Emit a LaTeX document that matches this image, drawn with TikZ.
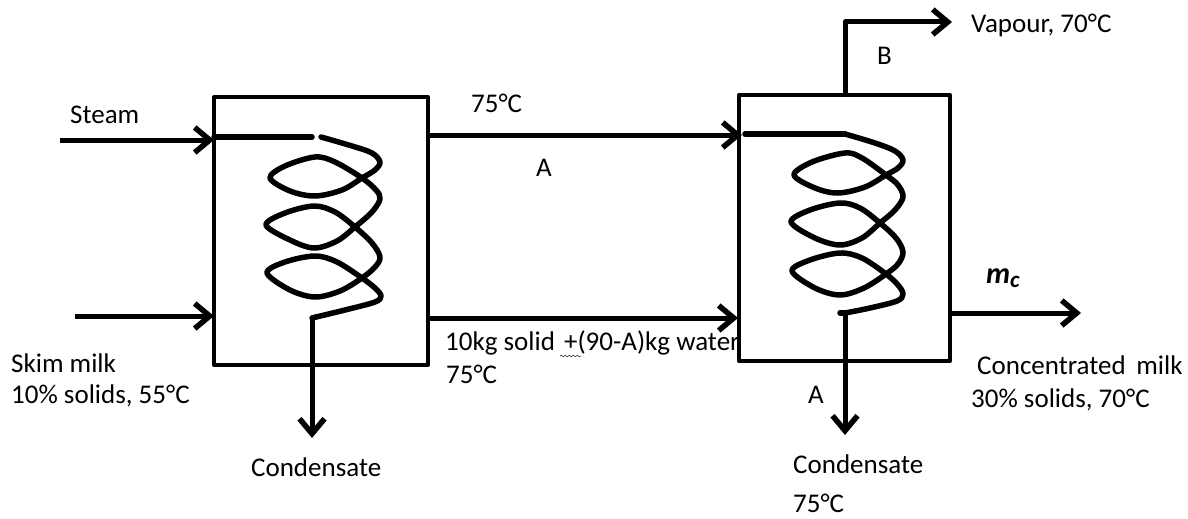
\documentclass[tikz,border=0pt]{standalone}
\usepackage{fontspec}
\setmainfont{Carlito}
\usetikzlibrary{arrows.meta,calc,decorations.pathmorphing}
\tikzset{
  x=1pt,y=-1pt,
  vessel/.style={draw,line width=4pt,rectangle,inner sep=0pt,line join=round},
  flow/.style={line width=5pt,-{Straight Barb[length=15pt,width=25pt,line width=5.5pt]},line join=round},
  coil/.style={line width=5.5pt,line join=round,line cap=round},
  lab/.style={inner sep=0pt,anchor=base west,font=\fontsize{27}{30}\selectfont,text=black},
}
\begin{document}
\begin{tikzpicture}
\useasboundingbox (0,0) rectangle (1188,519);
% vessels
\node[vessel,minimum width=214pt,minimum height=268pt] (E1) at (321,231) {};
\node[vessel,minimum width=211pt,minimum height=266pt] (E2) at (844.5,228) {};
% free ends
\coordinate (steamin) at (60,140);
\coordinate (steamend) at (214,140);
\coordinate (feedin) at (75,316);
\coordinate (feedend) at (214,316);
\coordinate (Aout) at (428,135);
\coordinate (Aend) at (742,135);
\coordinate (Mout) at (428,318);
\coordinate (Mend) at (738,318);
\coordinate (Vbase) at (845,95);
\coordinate (Vcorner) at (845,22);
\coordinate (Vend) at (952,22);
\coordinate (Pout) at (950,313);
\coordinate (Pend) at (1081,313);
\coordinate (C1top) at (312,318);
\coordinate (C1end) at (312,438);
\coordinate (C2top) at (845,313);
\coordinate (C2end) at (845,435);
\coordinate (I1a) at (214,137);
\coordinate (I1b) at (312,137);
\coordinate (I2a) at (745,134);
\coordinate (I2b) at (845,134);
% connectors
\draw[flow] (steamin) -- (steamend);
\draw[flow] (feedin) -- (feedend);
\draw[flow] (Aout) -- (Aend);
\draw[flow] (Mout) -- (Mend);
\draw[flow] (Vbase) -- (Vcorner) -- (Vend);
\draw[flow] (Pout) -- (Pend);
\draw[flow] (C1top) -- (C1end);
\draw[flow] (C2top) -- (C2end);
% left coil
\draw[coil] (I1a) -- (I1b);
\draw[coil] plot[smooth,tension=.55] coordinates {
 (321,137) (352,146) (372,153) (380,162) (375,170) (362,178) (342,190) (315,196)
 (290,191) (270,178) (285,166) (315,157) (335,162) (362,178) (376,190) (380,199)
 (372,212) (355,227) (337,241) (314,248) (290,240) (266,225) (285,213) (314,206)
 (335,212) (355,227) (372,243) (380,257) (375,267) (362,278) (340,291) (315,297)
 (290,290) (267,273) (285,262) (315,256) (337,262) (362,278) (375,288) (381,296)
 (375,302) (345,310) (316,317)};
\draw[coil] (316,317) -- (C1top);
% right coil
\draw[coil] (I2a) -- (I2b);
\draw[coil] plot[smooth,tension=.55] coordinates {
 (845,134) (875,143) (895,151) (903,160) (898,168) (886,175) (865,187) (838,193)
 (815,188) (794,175) (812,162) (845,153) (862,158) (886,175) (898,185) (903,197)
 (895,210) (880,223) (862,238) (840,245) (815,238) (791,222) (810,210) (840,203)
 (860,208) (880,223) (896,238) (903,252) (898,264) (886,274) (864,288) (840,295)
 (815,288) (792,271) (810,260) (840,253) (862,258) (886,274) (898,285) (903,294)
 (897,301) (870,308) (845,313)};
\draw[coil] (845,313) -- (840,313);
% labels
\node[lab] (t1) at (70,123) {Steam};
\node[lab] (t2) at (471,112) {75°C};
\node[lab] (t3) at (536,176) {A};
\node[lab] (t4) at (445,350) {10kg solid\hspace{3pt} +(90-A)kg water};
\node[lab] (t5) at (446,383) {75°C};
\node[lab] (t6) at (11,372) {Skim milk};
\node[lab] (t7) at (11,403) {10\% solids, 55°C};
\node[lab] (t8) at (251,476) {Condensate};
\node[lab] (t9) at (971,33) {Vapour, 70°C};
\node[lab] (t10) at (877,64) {B};
\node[lab,font=\fontsize{30}{32}\selectfont\bfseries\itshape] (t11) at (986,283) {m};
\node[lab,font=\fontsize{23}{25}\selectfont\bfseries\itshape] (t12) at (1010,287) {c};
\node[lab] (t13) at (977,374) {Concentrated \,milk};
\node[lab] (t14) at (971,407) {30\% solids, 70°C};
\node[lab] (t15) at (808,403) {A};
\node[lab] (t16) at (793,473) {Condensate};
\node[lab] (t17) at (793,512) {75°C};
\draw[line width=.7pt,black!70,decorate,decoration={snake,amplitude=.8pt,segment length=4pt}] (560,356) -- (581,356);
\end{tikzpicture}
\end{document}
